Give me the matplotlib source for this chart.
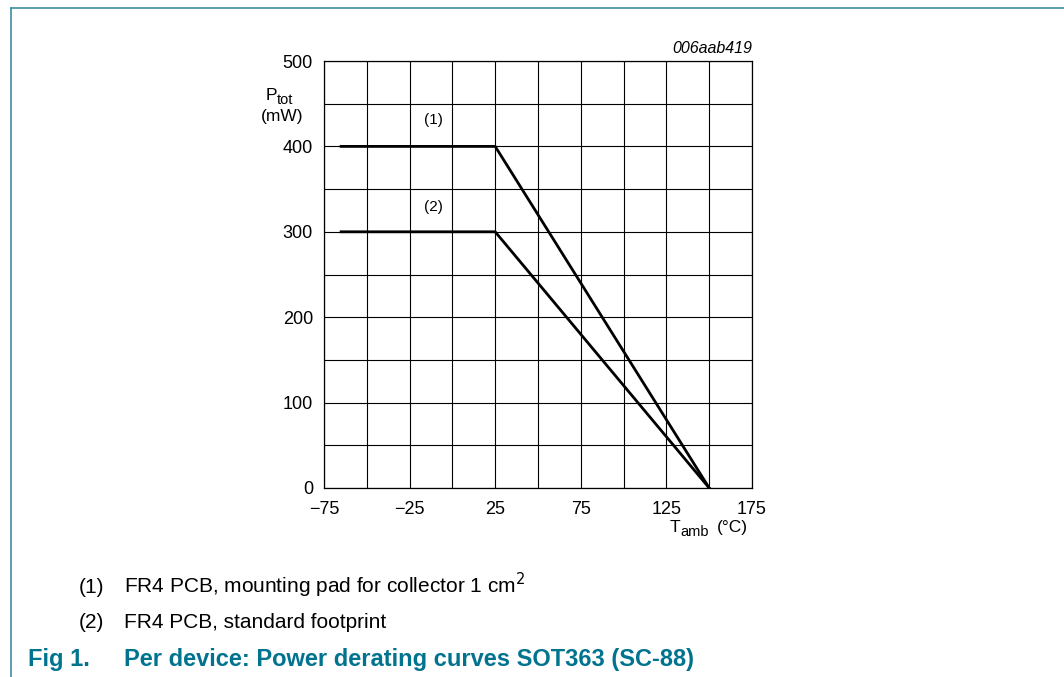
import matplotlib
matplotlib.use("Agg")
import matplotlib.pyplot as plt
from matplotlib.lines import Line2D

plt.rcParams['font.family'] = ['Liberation Sans', 'DejaVu Sans']

# derating curves: (1) mounting pad 1 cm2, (2) standard footprint
t_amb = [-65, 25, 150]
p_tot_1 = [400, 400, 0]
p_tot_2 = [300, 300, 0]

curve_labels = ['(1)', '(2)']
curve_label_x = [-11, -11]
curve_label_y = [431, 329]

x_ticks = [-75, -25, 25, 75, 125, 175]
x_tick_labels = ['\u221275', '\u221225', '25', '75', '125', '175']
y_ticks = [0, 100, 200, 300, 400, 500]

notes = ['FR4 PCB, mounting pad for collector 1 cm$^{2}$',
         'FR4 PCB, standard footprint']

teal = '#00738f'
W, H = 1064, 677


def px(x, y):
    # pixel position -> figure fraction
    return x / W, 1 - y / H


fig = plt.figure(figsize=(10.64, 6.77), dpi=100)
ax = fig.add_axes([324 / W, 1 - 488 / H, 428 / W, 427 / H])

ax.plot(t_amb, p_tot_1, color='black', lw=2.0, solid_joinstyle='miter')
ax.plot(t_amb, p_tot_2, color='black', lw=2.0, solid_joinstyle='miter')
for lab, lx, ly in zip(curve_labels, curve_label_x, curve_label_y):
    ax.text(lx, ly, lab, fontsize=11, ha='center', va='center')

ax.set_xlim(-75, 175)
ax.set_ylim(0, 500)
ax.set_xticks(range(-75, 176, 25), minor=True)
ax.set_yticks(range(0, 501, 50), minor=True)
ax.set_xticks(x_ticks)
ax.set_xticklabels(x_tick_labels)
ax.set_yticks(y_ticks)
ax.grid(which='both', color='black', lw=0.8)
ax.tick_params(which='both', length=0, labelsize=13)
ax.tick_params(axis='x', pad=9.5)
ax.tick_params(axis='y', pad=8)
for s in ax.spines.values():
    s.set_linewidth(0.9)
ax.set_axisbelow(True)

ax.text(1.0, 1.012, '006aab419', transform=ax.transAxes, ha='right',
        va='bottom', fontsize=11.5, style='italic')

# axis titles built from pieces so the subscripts keep their size
fig.text(*px(277, 100), 'P', ha='right', va='baseline', fontsize=12.5)
fig.text(*px(277, 104), 'tot', ha='left', va='baseline', fontsize=10.5)
fig.text(*px(282, 117), '(mW)', ha='center', va='center', fontsize=12.5)
fig.text(*px(670, 532), 'T', ha='left', va='baseline', fontsize=12.5)
fig.text(*px(680, 536), 'amb', ha='left', va='baseline', fontsize=10.5)
fig.text(*px(748, 532), '(\u00b0C)', ha='right', va='baseline', fontsize=12.5)

# footnotes and caption
note_base = [593, 628]
for i, note in enumerate(notes):
    fig.text(*px(79, note_base[i]), '(%d)' % (i + 1), ha='left',
             va='baseline', fontsize=15)
    fig.text(*px(124, note_base[i]), note, ha='left', va='baseline',
             fontsize=15)
fig.text(*px(28, 666), 'Fig 1.', ha='left', va='baseline',
         fontsize=17, weight='bold', color=teal)
fig.text(*px(124, 666), 'Per device: Power derating curves SOT363 (SC-88)',
         ha='left', va='baseline', fontsize=17, weight='bold', color=teal)

# page frame
fig.add_artist(Line2D([11 / W, 11 / W], [0, 1 - 8 / H],
                      transform=fig.transFigure, color='#3d8ea3', lw=1.2))
fig.add_artist(Line2D([11 / W, 1], [1 - 8 / H, 1 - 8 / H],
                      transform=fig.transFigure, color='#3d8ea3', lw=1.2))

fig.savefig('out.png', dpi=100)
